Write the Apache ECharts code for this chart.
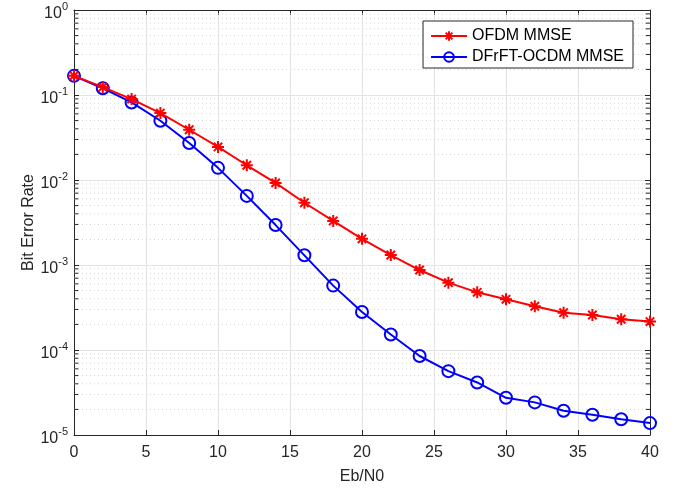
<!DOCTYPE html>
<html>
<head>
<meta charset="utf-8">
<script src="https://cdn.jsdelivr.net/npm/echarts@6/dist/echarts.min.js"></script>
<style>
  html, body { margin: 0; padding: 0; background: #fff; }
  #chart { width: 683px; height: 490px; }
</style>
</head>
<body>
<div id="chart"></div>
<script>
// Eb/N0 (dB)
const snr = [0, 2, 4, 6, 8, 10, 12, 14, 16, 18, 20, 22, 24, 26, 28, 30, 32, 34, 36, 38, 40]
// bit error rate
const berOfdm = [0.168, 0.124, 0.0895, 0.0613, 0.039, 0.0245, 0.0149, 0.00925, 0.0054, 0.0033, 0.00203,
  0.00131, 0.000873, 0.00062, 0.000477, 0.000395, 0.000327, 0.000275, 0.000258, 0.00023, 0.000216]
const berOcdm = [0.168, 0.12, 0.0817, 0.0498, 0.0272, 0.0139, 0.0065, 0.00295, 0.0013, 0.000572, 0.00028,
  0.000152, 8.5e-5, 5.64e-5, 4.15e-5, 2.74e-5, 2.42e-5, 1.93e-5, 1.73e-5, 1.53e-5, 1.38e-5]
const seriesNames = ['OFDM MMSE', 'DFrFT-OCDM MMSE']
const decades = [-5, -4, -3, -2, -1]

const font = 'Liberation Sans, Arial, Helvetica, sans-serif'
const ink = '#262626'
const starPath = 'path://M0 -10 L0 10 M-10 0 L10 0 M-7 -7 L7 7 M-7 7 L7 -7'

// minor grid (2..9 in each decade) as broken line segments, plus small edge ticks
const minorGrid = []
const minorTicks = []
decades.forEach(d => {
  for (let m = 2; m <= 9; m++) {
    const v = m * Math.pow(10, d)
    minorGrid.push([0, v], [40, v], '-')
    minorTicks.push([0, v], [0.3, v], '-', [39.7, v], [40, v], '-')
  }
})

const chart = echarts.init(document.getElementById('chart'))
chart.setOption({
  animation: false,
  textStyle: { fontFamily: font },
  grid: { left: 74, right: 33, top: 10, bottom: 54 },
  legend: {
    data: seriesNames,
    orient: 'vertical',
    top: 21,
    right: 50,
    itemWidth: 36,
    itemHeight: 12,
    itemGap: 5,
    padding: [7, 9, 3, 7],
    borderColor: ink,
    borderWidth: 1,
    backgroundColor: '#fff',
    textStyle: { fontFamily: font, fontSize: 16, color: '#000' }
  },
  xAxis: [
    {
      type: 'value',
      min: 0,
      max: 40,
      interval: 5,
      name: 'Eb/N0',
      nameLocation: 'middle',
      nameGap: 34,
      nameTextStyle: { fontFamily: font, fontSize: 16, color: ink },
      axisLine: { lineStyle: { color: ink, width: 1 } },
      axisTick: { inside: true, length: 5, lineStyle: { color: ink } },
      axisLabel: { fontFamily: font, fontSize: 16, color: ink, margin: 10 },
      splitLine: { show: true, lineStyle: { color: '#e3e3e3', width: 1 } }
    },
    {
      type: 'value',
      position: 'top',
      min: 0,
      max: 40,
      interval: 5,
      axisLine: { show: true, onZero: false, lineStyle: { color: ink, width: 1 } },
      axisTick: { inside: true, length: 5, lineStyle: { color: ink } },
      axisLabel: { show: false },
      splitLine: { show: false }
    }
  ],
  yAxis: [
    {
      type: 'log',
      logBase: 10,
      min: 1e-5,
      max: 1,
      interval: 1,
      name: 'Bit Error Rate',
      nameLocation: 'middle',
      nameGap: 37,
      nameMoveOverlap: false,
      nameTextStyle: { fontFamily: font, fontSize: 16, color: ink },
      axisLine: { show: true, lineStyle: { color: ink, width: 1 } },
      axisTick: { inside: true, length: 5, lineStyle: { color: ink } },
      axisLabel: {
        margin: 6,
        formatter: v => '{b|10}{s|' + Math.round(Math.log10(v)) + '}',
        rich: {
          b: { fontFamily: font, fontSize: 16, color: ink, padding: [8, 0, 0, 0] },
          s: { fontFamily: font, fontSize: 11, color: ink, padding: [0, 0, 6, 0] }
        }
      },
      splitLine: { show: true, lineStyle: { color: '#e3e3e3', width: 1 } }
    },
    {
      type: 'log',
      logBase: 10,
      position: 'right',
      min: 1e-5,
      max: 1,
      interval: 1,
      axisLine: { show: true, onZero: false, lineStyle: { color: ink, width: 1 } },
      axisTick: { inside: true, length: 5, lineStyle: { color: ink } },
      axisLabel: { show: false },
      splitLine: { show: false }
    }
  ],
  series: [
    {
      name: 'minorGrid',
      type: 'line',
      data: minorGrid,
      silent: true,
      symbol: 'none',
      connectNulls: false,
      z: 1,
      lineStyle: { color: '#d4d4d4', type: [1, 3], width: 1 }
    },
    {
      name: 'minorTicks',
      type: 'line',
      data: minorTicks,
      silent: true,
      symbol: 'none',
      connectNulls: false,
      z: 3,
      lineStyle: { color: ink, width: 1 }
    },
    {
      name: seriesNames[0],
      type: 'line',
      z: 5,
      data: snr.map((x, i) => [x, berOfdm[i]]),
      symbol: starPath,
      symbolSize: 12,
      lineStyle: { color: '#ff0000', width: 2 },
      itemStyle: { color: '#ff0000', borderColor: '#ff0000', borderWidth: 2 }
    },
    {
      name: seriesNames[1],
      type: 'line',
      z: 4,
      data: snr.map((x, i) => [x, berOcdm[i]]),
      symbol: 'circle',
      symbolSize: 12,
      lineStyle: { color: '#0000ff', width: 2 },
      itemStyle: { color: 'rgba(0,0,0,0)', borderColor: '#0000ff', borderWidth: 2 }
    }
  ]
})
</script>
</body>
</html>
